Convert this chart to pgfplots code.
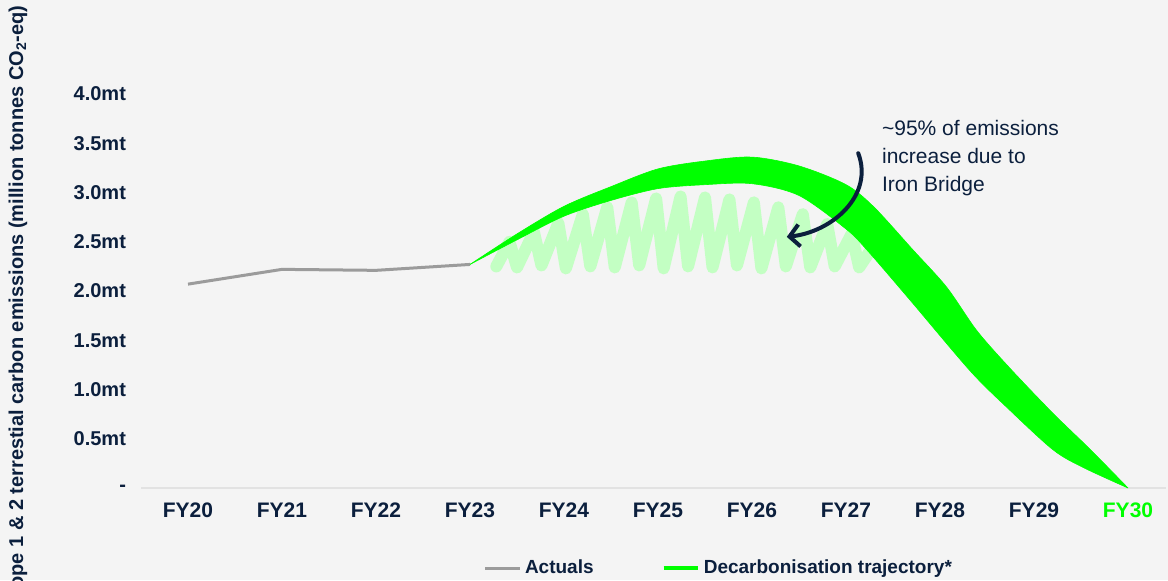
\documentclass[border=0pt]{standalone}
\usepackage{fontspec}
\setmainfont{Liberation Sans}
\usepackage{pgfplots}
\pgfplotsset{compat=1.18}
\usepgfplotslibrary{fillbetween}
\usetikzlibrary{arrows.meta}
\definecolor{bgc}{HTML}{F4F4F4}
\definecolor{navy}{HTML}{0B1F3D}
\definecolor{actgray}{HTML}{9B9B9B}
\definecolor{axgray}{HTML}{E2E2E2}
\definecolor{bright}{HTML}{00FF00}
\definecolor{scrib}{HTML}{C3FFC3}

\begin{document}
\begin{tikzpicture}
\fill[bgc] (-70.5pt,-46pt) rectangle (513.5pt,244pt);
\begin{axis}[
    scale only axis,
    width=512.3pt, height=211.75pt,
    xmin=-0.5, xmax=10.4, ymin=0, ymax=4.3,
    axis line style={draw=none},
    major tick length=0pt,
    clip=false,
    xtick={0,1,2,3,4,5,6,7,8,9,10},
    xticklabels={FY20,FY21,FY22,FY23,FY24,FY25,FY26,FY27,FY28,FY29,\textcolor{bright}{FY30}},
    ytick={0,0.5,1,1.5,2,2.5,3,3.5,4},
    yticklabels={-,0.5mt,1.0mt,1.5mt,2.0mt,2.5mt,3.0mt,3.5mt,4.0mt},
    x tick label style={font=\bfseries\fontsize{10.5}{12}\selectfont, text=navy, yshift=-4pt},
    y tick label style={font=\bfseries\fontsize{10}{12}\selectfont, text=navy, xshift=-4pt},
    legend columns=2,
    legend style={at={(0.565,-0.189)}, anchor=center, draw=none, fill=none,
        font=\bfseries\fontsize{9.5}{12}\selectfont, text=navy,
        /tikz/every even column/.append style={column sep=32pt}},
]
% baseline
\draw[axgray, line width=1pt] (axis cs:-0.5,0) -- (axis cs:10.4,0);

% pale scribble under the hump
\addplot[scrib, line width=6pt, line cap=round, line join=round, forget plot] coordinates {
    (3.28,2.25) (3.42,2.50) (3.50,2.24) (3.68,2.60) (3.76,2.26) (3.94,2.69)
    (4.02,2.23) (4.20,2.78) (4.28,2.25) (4.46,2.85) (4.54,2.24) (4.72,2.90)
    (4.80,2.26) (4.98,2.94) (5.06,2.23) (5.24,2.96) (5.32,2.25) (5.50,2.95)
    (5.58,2.24) (5.76,2.93) (5.84,2.26) (6.02,2.90) (6.10,2.23) (6.28,2.85)
    (6.36,2.25) (6.54,2.78) (6.62,2.24) (6.80,2.68) (6.88,2.25) (7.06,2.58)
    (7.14,2.24) (7.28,2.44)
};

% actuals
\addplot[actgray, line width=1.5pt] coordinates {
    (0,2.07) (1,2.22) (2,2.21) (3,2.27)
};
\addlegendentry{Actuals}

% trajectory band
\addplot[name path=up, bright, line width=0.3pt, smooth, forget plot] coordinates {
    (3,2.27) (3.5,2.58) (4,2.86) (4.5,3.06) (5,3.24) (5.5,3.32) (6,3.36)
    (6.5,3.27) (7,3.08) (7.3,2.85) (7.71,2.42) (8.07,2.04) (8.39,1.60)
    (8.74,1.22) (9.2,0.76) (9.6,0.39) (10,0)
};
\addplot[name path=lo, bright, line width=0.3pt, smooth, forget plot] coordinates {
    (3,2.27) (3.5,2.52) (4,2.76) (4.5,2.92) (5,3.04) (5.5,3.08) (6,3.09)
    (6.5,2.97) (7,2.63) (7.22,2.42) (7.68,1.91) (8.32,1.19) (8.71,0.82)
    (9.2,0.39) (9.52,0.21) (10,0)
};
\addplot[fill=bright, draw=none, forget plot] fill between[of=up and lo, on layer=main];
\addlegendimage{bright, line width=2pt}
\addlegendentry{Decarbonisation trajectory*}

% annotation
\draw[navy, line width=2pt, line cap=round,
      -{Straight Barb[length=5pt, width=11pt, line width=2pt]}]
    (axis cs:7.13,3.40) .. controls (axis cs:7.30,2.97) and (axis cs:6.85,2.60) .. (axis cs:6.37,2.55);
\node[anchor=north west, align=left, inner sep=0pt, text=navy,
      font=\fontsize{10.5}{14}\selectfont]
    at (axis cs:7.38,3.74) {\textasciitilde95\% of emissions\\increase due to\\Iron Bridge};
\end{axis}
\node[rotate=90, anchor=east, inner sep=0pt, text=navy,
      font=\bfseries\fontsize{10}{11}\selectfont]
    at (-61.5pt,241.5pt) {Scope 1 \& 2 terrestial carbon emissions (million tonnes CO\textsubscript{2}-eq)};
\pgfresetboundingbox
\path[use as bounding box] (-70.5pt,-46pt) rectangle (513.5pt,244pt);
\end{tikzpicture}
\end{document}
